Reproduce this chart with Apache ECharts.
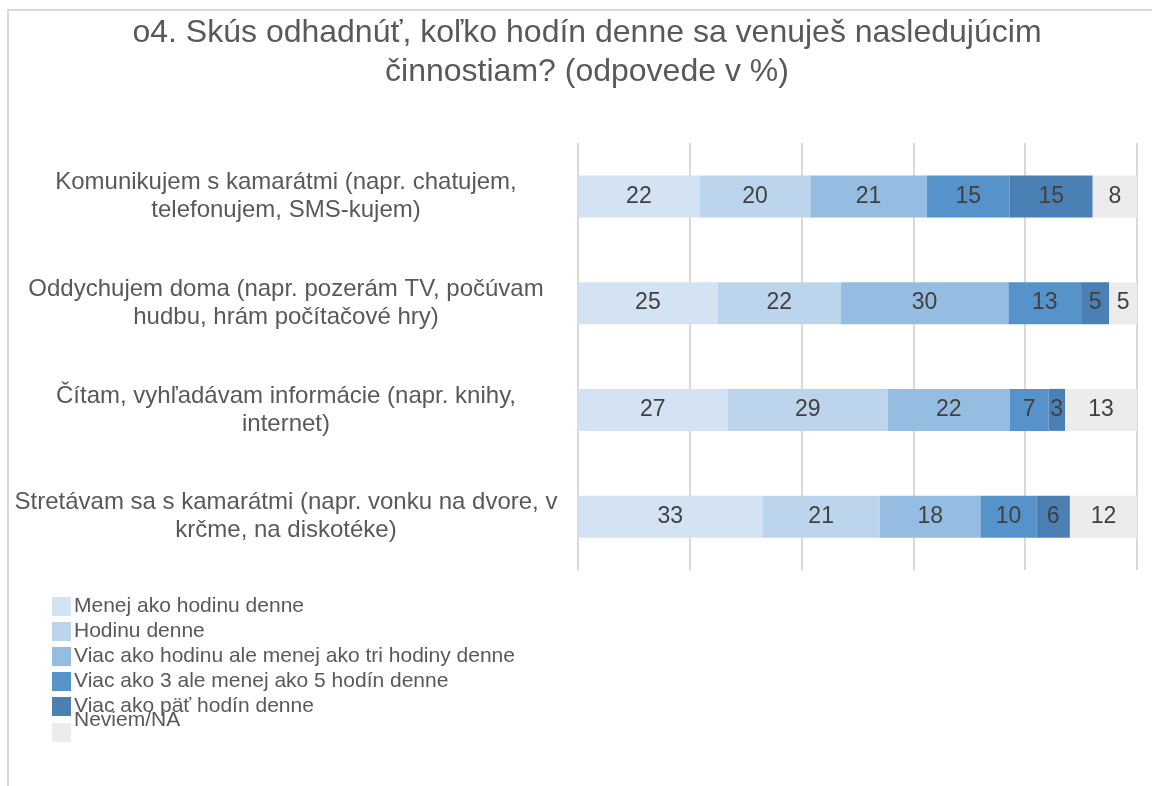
<!DOCTYPE html>
<html>
<head>
<meta charset="utf-8">
<script src="https://cdn.jsdelivr.net/npm/echarts@6/dist/echarts.min.js"></script>
<style>
  html, body { margin: 0; padding: 0; background: #fff; }
  #chart { width: 1152px; height: 786px; }
</style>
</head>
<body>
<div id="chart"></div>
<script>
const categories = [
  'Komunikujem s kamarátmi (napr. chatujem,\ntelefonujem, SMS-kujem)',
  'Oddychujem doma (napr. pozerám TV, počúvam\nhudbu, hrám počítačové hry)',
  'Čítam, vyhľadávam informácie (napr. knihy,\ninternet)',
  'Stretávam sa s kamarátmi (napr. vonku na dvore, v\nkrčme, na diskotéke)',
]
const seriesNames = [
  'Menej ako hodinu denne',
  'Hodinu denne',
  'Viac ako hodinu ale menej ako tri hodiny denne',
  'Viac ako 3 ale menej ako 5 hodín denne',
  'Viac ako päť hodín denne',
  'Neviem/NA',
]
const lessThanHour = [22, 25, 27, 33]
const oneHour = [20, 22, 29, 21]
const oneToThree = [21, 30, 22, 18]
const threeToFive = [15, 13, 7, 10]
const moreThanFive = [15, 5, 3, 6]
const dontKnow = [8, 5, 13, 12]
const xTicks = [0, 20, 40, 60, 80, 100]

const colors = ['#d3e3f3', '#bcd5ed', '#95bde2', '#5793cb', '#4b80b5', '#ececec']
const allValues = [lessThanHour, oneHour, oneToThree, threeToFive, moreThanFive, dontKnow]
const FONT = 'Liberation Sans, Arial, sans-serif'

// 100% stacked: each row is scaled to its own total, labels keep the raw value
const rowTotals = categories.map((_, i) => allValues.reduce((s, arr) => s + arr[i], 0))

const series = allValues.map((arr, k) => ({
  name: seriesNames[k],
  type: 'bar',
  stack: 'total',
  barWidth: 42,
  itemStyle: { color: colors[k] },
  label: {
    show: true,
    position: 'inside',
    color: '#404040',
    fontSize: 23,
    fontFamily: FONT,
    formatter: (p) => p.data.raw,
  },
  data: arr.map((v, i) => ({ value: (v / rowTotals[i]) * 100, raw: v })),
}))

const legendBase = {
  orient: 'vertical',
  left: 47,
  itemWidth: 19,
  itemHeight: 19,
  itemGap: 4,
  icon: 'rect',
  textStyle: { color: '#595959', fontSize: 21, padding: [0, 0, 0, -2] },
}

const chart = echarts.init(document.getElementById('chart'))
chart.setOption({
  animation: false,
  textStyle: { fontFamily: FONT },
  graphic: [
    {
      type: 'rect',
      shape: { x: 8, y: 10, width: 1300, height: 1000 },
      style: { fill: 'none', stroke: '#d9d9d9', lineWidth: 2 },
      silent: true,
      z: -1,
    },
  ],
  title: {
    text: 'o4. Skús odhadnúť, koľko hodín denne sa venuješ nasledujúcim\nčinnostiam? (odpovede v %)',
    left: 582,
    top: 9,
    textAlign: 'center',
    textStyle: {
      color: '#595959',
      fontSize: 32,
      fontWeight: 'normal',
      lineHeight: 39,
      fontFamily: FONT,
    },
  },
  legend: [
    { ...legendBase, top: 591, height: 160, data: seriesNames.slice(0, 5) },
    // the last entry's text sits higher than its square in the original, overlapping the one above
    {
      ...legendBase,
      top: 705,
      data: seriesNames.slice(5),
      formatter: (name) => `{up|${name}}`,
      textStyle: {
        ...legendBase.textStyle,
        rich: { up: { color: '#595959', fontSize: 21, padding: [0, 0, 24, 0] } },
      },
    },
  ],
  grid: { left: 578, right: 15, top: 143, bottom: 216 },
  xAxis: {
    type: 'value',
    min: xTicks[0],
    max: xTicks[xTicks.length - 1],
    interval: xTicks[1] - xTicks[0],
    axisLabel: { show: false },
    axisLine: { show: false },
    axisTick: { show: false },
    splitLine: { lineStyle: { color: '#d9d9d9', width: 2 } },
  },
  yAxis: {
    type: 'category',
    inverse: true,
    data: categories,
    axisLine: { show: false },
    axisTick: { show: false },
    axisLabel: {
      align: 'center',
      margin: 292,
      color: '#595959',
      fontSize: 24,
      lineHeight: 28,
    },
  },
  series,
})
</script>
</body>
</html>
